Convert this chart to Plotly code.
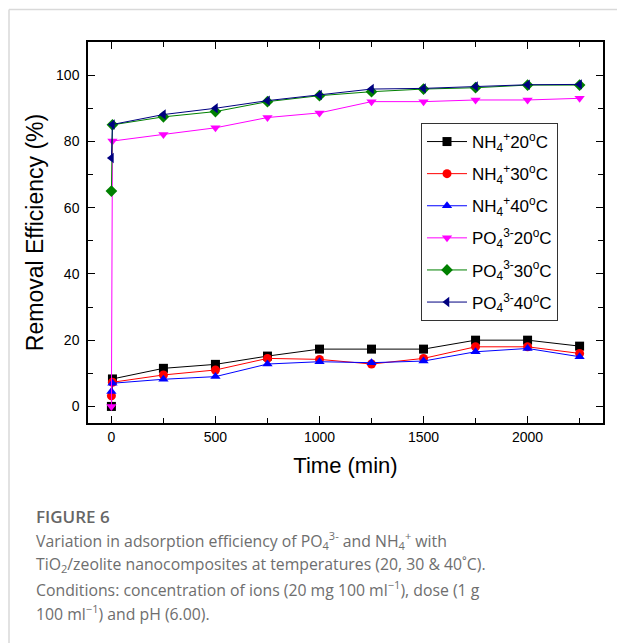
import plotly.graph_objects as go

# ---- data ----
time_min = [0, 5, 250, 500, 750, 1000, 1250, 1500, 1750, 2000, 2250]
nh4_20 = [0, 8.3, 11.5, 12.7, 15.2, 17.3, 17.3, 17.3, 20.0, 20.0, 18.2]
nh4_30 = [3.2, 7.3, 9.5, 11.0, 14.5, 14.2, 12.8, 14.5, 18.0, 18.0, 16.0]
nh4_40 = [4.5, 7.0, 8.2, 9.0, 12.8, 13.5, 13.2, 13.7, 16.5, 17.5, 15.0]
po4_20 = [0, 80.1, 82.1, 84.1, 87.2, 88.6, 92.0, 92.0, 92.5, 92.5, 93.0]
po4_30 = [65.0, 85.0, 87.4, 89.0, 92.0, 93.8, 95.0, 95.8, 96.2, 97.0, 97.0]
po4_40 = [75.0, 85.1, 88.1, 90.0, 92.3, 94.0, 95.8, 96.0, 96.6, 97.1, 97.2]

series_names = [
    "NH<sub>4</sub><sup>+</sup>20<sup>o</sup>C",
    "NH<sub>4</sub><sup>+</sup>30<sup>o</sup>C",
    "NH<sub>4</sub><sup>+</sup>40<sup>o</sup>C",
    "PO<sub>4</sub><sup>3-</sup>20<sup>o</sup>C",
    "PO<sub>4</sub><sup>3-</sup>30<sup>o</sup>C",
    "PO<sub>4</sub><sup>3-</sup>40<sup>o</sup>C",
]
series_values = [nh4_20, nh4_30, nh4_40, po4_20, po4_30, po4_40]
series_colors = ["#000000", "#FF0000", "#0000FF", "#FF00FF", "#008000", "#000080"]
series_symbols = ["square", "circle", "triangle-up", "triangle-down", "diamond", "triangle-left"]

x_ticks = [0, 500, 1000, 1500, 2000]
y_ticks = [0, 20, 40, 60, 80, 100]

caption_title = "FIGURE 6"
caption_lines = [
    "Variation in adsorption efficiency of PO<sub>4</sub><sup>3-</sup> and NH<sub>4</sub><sup>+</sup> with",
    "TiO<sub>2</sub>/zeolite nanocomposites at temperatures (20, 30 &amp; 40˚C).",
    "Conditions: concentration of ions (20 mg 100 ml<sup>−1</sup>), dose (1 g",
    "100 ml<sup>−1</sup>) and pH (6.00).",
]

# ---- layout geometry (pixels) ----
W, H = 617, 643
ML, MR, MT, MB = 88, 14, 42, 220
PW, PH = W - ML - MR, H - MT - MB


def px_x(px):
    return (px - ML) / PW


def px_y(py):
    return (H - MB - py) / PH


fig = go.Figure()
for i, (name, vals) in enumerate(zip(series_names, series_values)):
    fig.add_trace(go.Scatter(
        x=time_min, y=vals, name=name, mode="lines+markers",
        line=dict(color=series_colors[i], width=1),
        marker=dict(symbol=series_symbols[i], size=9, color=series_colors[i]),
        legendgroup=f"g{i}",
    ))

axis_font = "Liberation Sans, Arial, sans-serif"
common_axis = dict(
    showgrid=False, zeroline=False, showline=True, linecolor="#000000", linewidth=1.5,
    mirror="allticks", ticks="inside", ticklen=7, tickwidth=1.2, tickcolor="#000000",
    tickfont=dict(family=axis_font, size=14, color="#000000"),
)
fig.update_xaxes(
    range=[-112.5, 2362.5], tickvals=x_ticks, ticktext=[str(v) for v in x_ticks],
    minor=dict(dtick=250, tick0=0, ticks="inside", ticklen=5, tickcolor="#000000", tickwidth=1.2),
    title=dict(text="Time (min)", font=dict(family=axis_font, size=22, color="#000000"), standoff=14),
    **common_axis,
)
fig.update_yaxes(
    range=[-5, 110], tickvals=y_ticks, ticktext=[str(v) for v in y_ticks],
    minor=dict(dtick=10, tick0=0, ticks="inside", ticklen=5, tickcolor="#000000", tickwidth=1.2),
    title=dict(text="Removal Efficiency (%)", font=dict(family=axis_font, size=23, color="#000000"), standoff=6),
    ticklabelstandoff=4,
    **common_axis,
)

annotations = [dict(
    text=caption_title, xref="paper", yref="paper", x=px_x(34), y=px_y(516),
    xanchor="left", yanchor="middle", showarrow=False,
    font=dict(family="Open Sans, sans-serif", size=17, color="#666666", weight=600),
)]
for k, line in enumerate(caption_lines):
    annotations.append(dict(
        text=line, xref="paper", yref="paper", x=px_x(34), y=px_y(540 + 24.3 * k),
        xanchor="left", yanchor="middle", showarrow=False,
        font=dict(family="Open Sans, sans-serif", size=15.8, color="#6e6e6e"),
    ))

shapes = [
    dict(type="line", xref="paper", yref="paper", x0=px_x(9), x1=px_x(W + 5), y0=px_y(9.5), y1=px_y(9.5),
         line=dict(color="#d9d9d9", width=1.5)),
    dict(type="line", xref="paper", yref="paper", x0=px_x(9), x1=px_x(9), y0=px_y(9.5), y1=px_y(H + 5),
         line=dict(color="#d9d9d9", width=1.5)),
]

fig.update_layout(
    width=W, height=H, margin=dict(l=ML, r=MR, t=MT, b=MB),
    paper_bgcolor="#ffffff", plot_bgcolor="#ffffff",
    showlegend=True,
    legend=dict(
        x=px_x(421), y=px_y(123), xanchor="left", yanchor="top",
        bordercolor="#333333", borderwidth=1, bgcolor="rgba(255,255,255,1)",
        font=dict(family=axis_font, size=17, color="#000000"),
        itemwidth=40, tracegroupgap=7,
    ),
    annotations=annotations, shapes=shapes,
)

fig.write_html(
    "out.html",
    config={"displayModeBar": False},
    post_script="document.body.style.margin='0';document.body.style.overflow='hidden';",
)
